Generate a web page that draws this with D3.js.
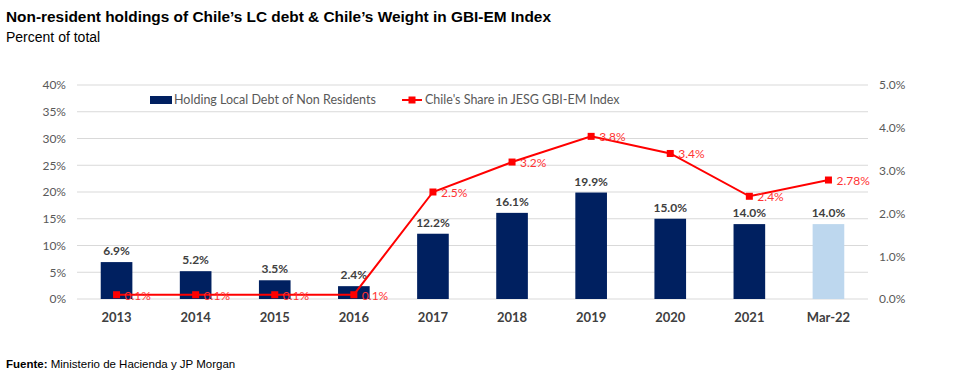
<!DOCTYPE html>
<html>
<head>
<meta charset="utf-8">
<script src="https://cdn.jsdelivr.net/npm/d3@7"></script>
<style>
  body { margin: 0; background: #fff; }
  svg { display: block; }
</style>
</head>
<body>
<div id="chart"></div>
<script>
// chart data
const categories = ["2013", "2014", "2015", "2016", "2017", "2018", "2019", "2020", "2021", "Mar-22"]
const holdings = [6.9, 5.2, 3.5, 2.4, 12.2, 16.1, 19.9, 15.0, 14.0, 14.0]
const share = [0.1, 0.1, 0.1, 0.1, 2.5, 3.2, 3.8, 3.4, 2.4, 2.78]
const shareLabels = ["0.1%", "0.1%", "0.1%", "0.1%", "2.5%", "3.2%", "3.8%", "3.4%", "2.4%", "2.78%"]
const leftTicks = [0, 5, 10, 15, 20, 25, 30, 35, 40]
const rightTicks = [0, 1, 2, 3, 4, 5]

const W = 975, H = 388
const margin = {top: 85, right: 107, bottom: 89, left: 77}
const width = W - margin.left - margin.right,
      height = H - margin.top - margin.bottom

const svg = d3.select("#chart").append("svg")
  .attr("width", W).attr("height", H)

// titles
svg.append("text")
  .attr("x", 6).attr("y", 22)
  .style("font-family", "Liberation Sans, Arial, sans-serif")
  .style("font-weight", "bold").style("font-size", "15.4px")
  .attr("fill", "#000")
  .text("Non-resident holdings of Chile\u2019s LC debt & Chile\u2019s Weight in GBI-EM Index")
svg.append("text")
  .attr("x", 6).attr("y", 42)
  .style("font-family", "Liberation Sans, Arial, sans-serif")
  .style("font-size", "14px")
  .attr("fill", "#000")
  .text("Percent of total")

const g = svg.append("g")
  .attr("transform", "translate(" + margin.left + "," + margin.top + ")")

const x = d3.scaleBand().domain(categories).range([0, width]).paddingInner(0.6).paddingOuter(0.3)
const y = d3.scaleLinear().domain([0, 40]).range([height, 0])
const y2 = d3.scaleLinear().domain([0, 5]).range([height, 0])

const font = "Lato, 'Open Sans', sans-serif"

// gridlines
g.append("g")
  .selectAll("line")
  .data(leftTicks)
  .enter().append("line")
    .attr("x1", 0).attr("x2", width)
    .attr("y1", d => y(d)).attr("y2", d => y(d))
    .attr("stroke", "#d9d9d9").attr("stroke-width", 1)

// left axis
const yAxis = g.append("g")
  .call(d3.axisLeft(y).tickValues(leftTicks).tickFormat(d => d + "%").tickSize(0).tickPadding(11))
yAxis.select(".domain").remove()
yAxis.selectAll("text").style("font-family", font).style("font-size", "12px").attr("fill", "#595959")

// right axis
const y2Axis = g.append("g")
  .attr("transform", "translate(" + width + ",0)")
  .call(d3.axisRight(y2).tickValues(rightTicks).tickFormat(d => d.toFixed(1) + "%").tickSize(0).tickPadding(11))
y2Axis.select(".domain").remove()
y2Axis.selectAll("text").style("font-family", font).style("font-size", "12px").attr("fill", "#595959")

// x axis
const xAxis = g.append("g")
  .attr("transform", "translate(0," + height + ")")
  .call(d3.axisBottom(x).tickSize(0).tickPadding(14))
xAxis.select(".domain").remove()
xAxis.selectAll("text").style("font-family", font).style("font-size", "13px")
  .style("font-weight", "bold").attr("fill", "#404040")

// bars
g.selectAll(".bar")
  .data(holdings)
  .enter().append("rect")
    .attr("class", "bar")
    .attr("x", (d, i) => x(categories[i]))
    .attr("y", d => y(d))
    .attr("width", x.bandwidth())
    .attr("height", d => height - y(d))
    .attr("fill", (d, i) => i === categories.length - 1 ? "#bdd7ee" : "#002060")

g.selectAll(".barlabel")
  .data(holdings)
  .enter().append("text")
    .attr("x", (d, i) => x(categories[i]) + x.bandwidth() / 2)
    .attr("y", d => y(d) - 7)
    .attr("text-anchor", "middle")
    .style("font-family", font).style("font-size", "12px").style("font-weight", "bold")
    .attr("fill", "#404040")
    .text(d => d.toFixed(1) + "%")

// line
const line = d3.line()
  .x((d, i) => x(categories[i]) + x.bandwidth() / 2)
  .y(d => y2(d))

g.append("path")
  .datum(share)
  .attr("d", line)
  .attr("fill", "none")
  .attr("stroke", "#ff0000")
  .attr("stroke-width", 2)

g.selectAll(".marker")
  .data(share)
  .enter().append("rect")
    .attr("x", (d, i) => x(categories[i]) + x.bandwidth() / 2 - 3.5)
    .attr("y", d => y2(d) - 3.5)
    .attr("width", 7).attr("height", 7)
    .attr("fill", "#ff0000")

g.selectAll(".linelabel")
  .data(share)
  .enter().append("text")
    .attr("x", (d, i) => x(categories[i]) + x.bandwidth() / 2 + 8)
    .attr("y", d => y2(d) + 5)
    .style("font-family", font).style("font-size", "12px")
    .attr("fill", "#ff3333")
    .text((d, i) => shareLabels[i])

// legend
const legend = svg.append("g").attr("transform", "translate(150,100)")
legend.append("rect")
  .attr("x", 0).attr("y", -4).attr("width", 22).attr("height", 8)
  .attr("fill", "#002060")
legend.append("text")
  .attr("x", 24).attr("y", 4)
  .style("font-family", font).style("font-size", "12.5px")
  .attr("fill", "#595959")
  .text("Holding Local Debt of Non Residents")
legend.append("line")
  .attr("x1", 252).attr("x2", 272).attr("y1", 0).attr("y2", 0)
  .attr("stroke", "#ff0000").attr("stroke-width", 2)
legend.append("rect")
  .attr("x", 258.5).attr("y", -3.5).attr("width", 7).attr("height", 7)
  .attr("fill", "#ff0000")
legend.append("text")
  .attr("x", 275).attr("y", 4)
  .style("font-family", font).style("font-size", "12.5px")
  .attr("fill", "#595959")
  .text("Chile's Share in JESG GBI-EM Index")

// source
const src = svg.append("text")
  .attr("x", 6).attr("y", 368)
  .style("font-family", "Liberation Sans, Arial, sans-serif")
  .style("font-size", "11.5px")
  .attr("fill", "#000")
src.append("tspan").style("font-weight", "bold").text("Fuente:")
src.append("tspan").text(" Ministerio de Hacienda y JP Morgan")
</script>
</body>
</html>
